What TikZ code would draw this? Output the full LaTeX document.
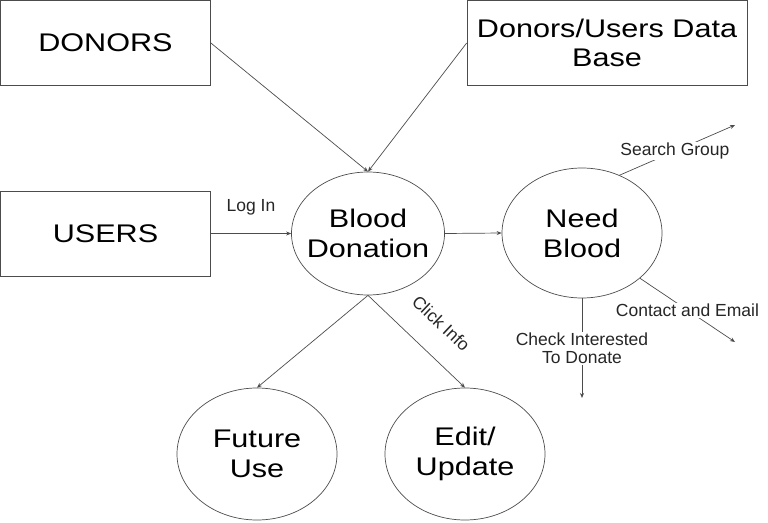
\documentclass[tikz,border=0pt]{standalone}
\usepackage{fontspec}
\setmainfont{Liberation Sans}
\newfontfamily\bigfont[FakeStretch=1.2]{Liberation Sans}
\usetikzlibrary{arrows.meta,shapes.geometric}
\begin{document}
\begin{tikzpicture}[x=1pt,y=-1pt,
  ln/.style={draw=black!70, line width=0.7pt},
  box/.style={ln, rectangle, inner sep=0pt, font=\bigfont\fontsize{25.5}{29}\selectfont, align=center},
  proc/.style={ln, ellipse, inner sep=-20pt, font=\bigfont\fontsize{25.5}{30}\selectfont, align=center},
  conn/.style={ln, -{Stealth[length=5pt,width=4pt]}},
  lbl/.style={font=\fontsize{17.5}{18}\selectfont, text=black!85, align=center},
]
\useasboundingbox (0,0) rectangle (768,522);
\node[box, minimum width=210, minimum height=85] (donors) at (105.5,43) {DONORS};
\node[box, minimum width=280, minimum height=85] (db) at (607,43) {Donors/Users Data\\Base};
\node[box, minimum width=210, minimum height=85] (users) at (105.5,233.5) {USERS};
\node[proc, minimum width=153, minimum height=123] (bd) at (368,233.5) {Blood\\Donation};
\node[proc, minimum width=160, minimum height=130] (nb) at (582,233) {Need\\Blood};
\node[proc, minimum width=160, minimum height=132] (fu) at (257,454) {Future\\Use};
\node[proc, minimum width=160, minimum height=132] (eu) at (465,454) {Edit/\\Update};
\coordinate (sg) at (735,125);
\coordinate (ce) at (735,342);
\coordinate (ci) at (582,398);
\draw[conn] (donors.east) -- (bd.north);
\draw[conn] (db.west) -- (bd.north);
\draw[conn] (users.east) -- node[lbl, above=15pt, pos=0.5] {Log In} (bd.west);
\draw[conn] (bd.east) -- (nb.west);
\draw[conn] (bd.south) -- (fu.north);
\draw[conn] (bd.south) -- node[lbl, sloped, above=20pt, pos=0.54] {Click Info} (eu.north);
\draw[conn] (nb.57) -- node[lbl, fill=white, pos=0.48, inner sep=1pt] {Search Group} (sg);
\draw[conn] (nb.-38) -- node[lbl, fill=white, inner sep=1pt] {Contact and Email} (ce);
\draw[conn] (nb.south) -- node[lbl, fill=white, inner sep=1pt] {Check Interested\\To Donate} (ci);
\end{tikzpicture}
\end{document}
